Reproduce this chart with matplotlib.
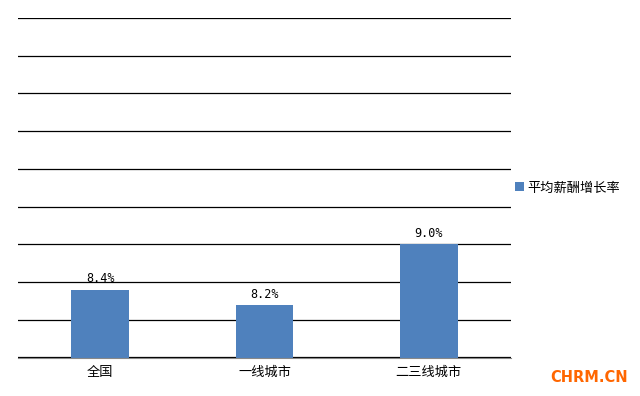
import matplotlib
matplotlib.use('Agg')
import matplotlib.pyplot as plt
from matplotlib.ticker import MultipleLocator

plt.rcParams['font.family'] = ['Noto Sans CJK SC', 'DejaVu Sans']

# --- data ---
categories = ['全国', '一线城市', '二三线城市']
growth = [8.4, 8.2, 9.0]
series_name = '平均薪酬增长率'

BLUE = '#4F81BD'

fig = plt.figure(figsize=(6.4, 3.96), dpi=100)
ax = fig.add_axes([18 / 640, 1 - 357.5 / 396, (511 - 18) / 640, (357.5 - 18) / 396])

x = range(len(categories))
bars = ax.bar(x, growth, width=0.35, color=BLUE, label=series_name, zorder=3)

ax.set_xlim(-0.5, len(categories) - 0.5)
ax.set_ylim(7.5, 12.0)
ax.yaxis.set_major_locator(MultipleLocator(0.5))
ax.grid(axis='y', color='black', linewidth=0.9, zorder=1)
ax.tick_params(axis='y', left=False, labelleft=False)
ax.tick_params(axis='x', length=0, pad=6)
ax.set_xticks(list(x))
ax.set_xticklabels(categories, fontsize=9.5)

for s in ['left', 'right', 'top']:
    ax.spines[s].set_visible(False)
ax.spines['bottom'].set_color('#888888')
ax.spines['bottom'].set_zorder(4)

for b, v in zip(bars, growth):
    ax.annotate(f'{v:.1f}%', (b.get_x() + b.get_width() / 2, v),
                xytext=(0, 3), textcoords='offset points',
                ha='center', va='bottom', fontsize=8.5,
                family='DejaVu Sans Mono')

leg = fig.legend(loc='center left', bbox_to_anchor=(515 / 640, 1 - 188 / 396),
                 frameon=False, fontsize=9.5, handlelength=0.65, handleheight=0.65,
                 handletextpad=0.25, borderaxespad=0, borderpad=0)

fig.text(628 / 640, 1 - 378 / 396, 'CHRM.CN', color='#FF6600', fontsize=10.5,
         fontweight='bold', ha='right', va='center', family='DejaVu Sans')

fig.savefig('out.png', dpi=100)
